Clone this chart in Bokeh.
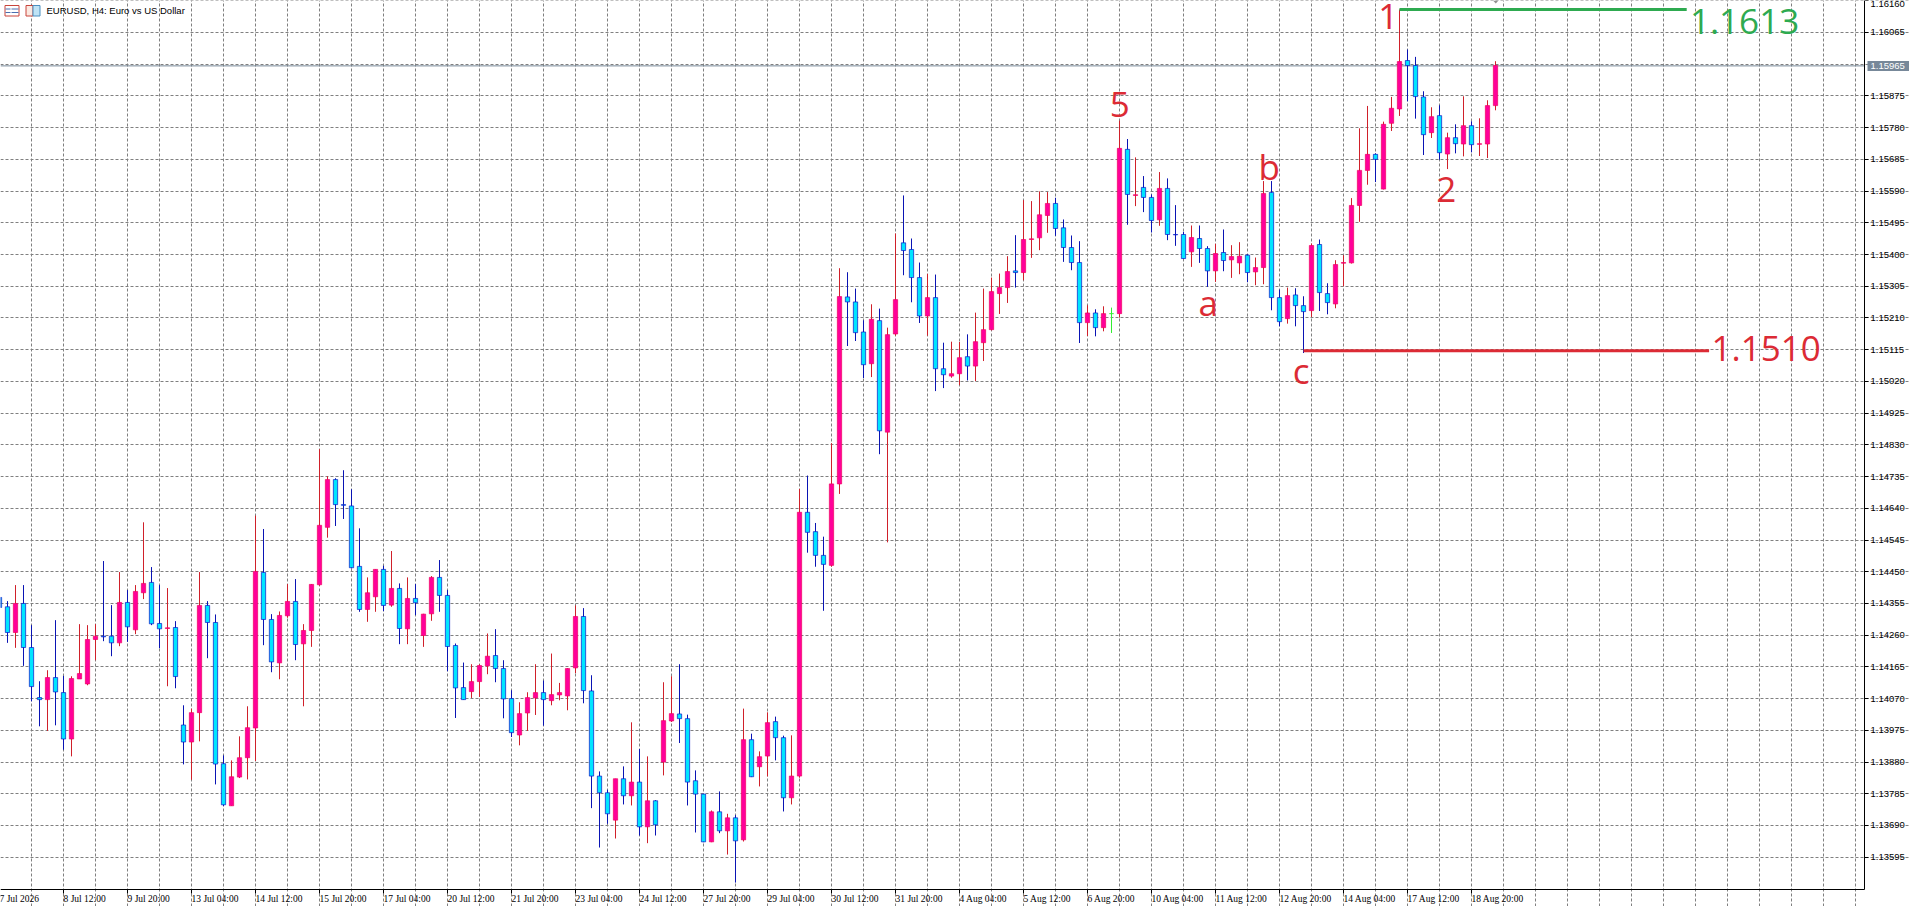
from bokeh.plotting import figure
from bokeh.embed import file_html
from bokeh.resources import INLINE
from bokeh.core.properties import value
from bokeh.models import (ColumnDataSource, FixedTicker, Label, LabelSet,
                          NumeralTickFormatter, Range1d)
import numpy as np

# ---- OHLC, in 1e-5 price points ----
open_pts = [114373,114345,114268,114355,114223,114073,114067,114133,114088,113949,114129,114114,114247,114257,114257,114237,
114358,114276,114387,114418,114295,114280,114283,113991,113940,114028,114349,114298,113875,113749,113835,113893,
113982,114448,114307,114177,114318,114361,114234,114274,114411,114583,114726,114651,114647,114466,114337,114375,
114457,114350,114400,114279,114370,114259,114324,114433,114379,114229,114103,114091,114121,114168,114199,114160,
114070,113961,114027,114072,114088,114064,114081,114078,114162,114316,114093,113838,113788,113706,113830,113779,
113820,113686,113764,113880,114003,114024,114010,113824,113784,113641,113731,113674,113713,113647,113947,113866,
113898,114001,113953,113773,113838,114628,114570,114499,114469,114713,115273,115258,115168,115073,115202,114868,
115162,115435,115415,115331,115216,115271,115058,115036,115043,115094,115066,115136,115175,115283,115301,115351,
115346,115445,115450,115517,115553,115480,115421,115376,115196,115225,115181,115223,115223,115715,115577,115601,
115571,115504,115598,115460,115460,115408,115448,115418,115351,115406,115384,115375,115398,115348,115361,115586,
115271,115208,115279,115247,115232,115430,115283,115252,115374,115375,115547,115652,115700,115596,115793,115836,
115981,115966,115872,115765,115816,115701,115750,115731,115786,115730,115731,115846]
high_pts = [114385,114362,114410,114410,114290,114122,114155,114305,114138,114137,114293,114290,114293,114482,114350,114449,
114395,114410,114598,114464,114410,114401,114302,114050,114040,114449,114362,114322,113900,113885,113957,114047,
114618,114578,114323,114331,114413,114428,114293,114413,114817,114736,114730,114754,114697,114580,114433,114457,
114468,114512,114415,114433,114413,114324,114437,114485,114395,114235,114178,114173,114173,114265,114278,114185,
114095,114059,114089,114173,114124,114205,114117,114161,114349,114341,114140,113852,113797,113830,113867,113999,
113919,113897,113766,114119,114137,114173,114022,113855,113785,113735,113792,113725,113721,114040,113965,113912,
114029,114016,113959,113960,114698,114738,114596,114555,114835,115359,115347,115298,115203,115251,115238,115181,
115463,115577,115448,115376,115342,115340,115136,115139,115138,115161,115226,115298,115331,115343,115395,115458,
115563,115560,115589,115587,115570,115505,115457,115440,115248,115236,115245,115241,115801,115746,115691,115635,
115580,115647,115628,115548,115468,115487,115487,115425,115432,115475,115428,115437,115401,115391,115620,115620,
115295,115301,115299,115275,115433,115445,115314,115383,115398,115569,115778,115845,115703,115798,115872,116134,
116014,115992,115889,115841,115847,115765,115790,115874,115799,115808,115862,115979]
low_pts = [114325,114237,114222,114168,114062,113987,113973,113990,113917,113897,114129,114110,114185,114242,114197,114227,
114240,114263,114368,114290,114221,114107,114101,113873,113827,113942,114191,113813,113748,113749,113832,113828,
113883,114230,114149,114128,114312,114185,114047,114225,114408,114552,114587,114608,114460,114330,114300,114330,
114332,114345,114233,114233,114320,114225,114303,114330,114152,114012,114067,114072,114075,114143,114119,114011,
113955,113930,113973,114021,113989,114050,114065,114035,114146,114056,113742,113624,113695,113651,113753,113750,
113660,113637,113660,113840,114000,113937,113750,113669,113640,113640,113667,113603,113519,113642,113835,113807,
113837,113885,113732,113753,113833,114507,114465,114333,114465,114683,115126,115141,115030,115033,114802,114538,
115157,115338,115257,115195,115157,114991,115000,115031,115009,115023,115021,115081,115173,115222,115255,115301,
115323,115390,115413,115465,115456,115378,115353,115135,115156,115155,115170,115165,115211,115489,115545,115527,
115466,115486,115443,115426,115388,115363,115375,115303,115318,115350,115330,115341,115317,115308,115311,115233,
115185,115193,115185,115105,115213,115231,115221,115239,115305,115373,115498,115609,115617,115595,115770,115815,
115859,115807,115698,115749,115684,115656,115703,115694,115706,115695,115689,115832]
close_pts = [114343,114268,114355,114223,114106,114067,114133,114090,113949,114130,114145,114247,114257,114255,114237,114358,
114285,114391,114415,114294,114279,114282,114136,113940,114028,114349,114298,113874,113752,113836,113893,113983,
114451,114307,114180,114319,114361,114232,114274,114412,114589,114726,114651,114649,114462,114337,114387,114457,
114349,114400,114280,114370,114357,114323,114433,114379,114226,114102,114067,114121,114169,114197,114160,114069,
113968,114025,114073,114088,114067,114082,114088,114160,114316,114094,113838,113788,113725,113830,113779,113820,
113686,113764,113692,114004,114025,114010,113820,113784,113641,113731,113674,113713,113644,113947,113836,113896,
113998,113953,113773,113838,114628,114568,114499,114472,114713,115274,115258,115166,115070,115206,114872,115160,
115265,115412,115331,115216,115271,115058,115040,115043,115091,115066,115139,115175,115289,115301,115349,115346,
115445,115447,115519,115553,115478,115421,115376,115196,115225,115181,115223,115223,115718,115580,115579,115571,
115502,115598,115460,115459,115388,115451,115418,115351,115403,115382,115394,115395,115346,115361,115583,115271,
115199,115277,115247,115229,115427,115286,115256,115370,115376,115547,115652,115700,115685,115790,115838,115978,
115966,115873,115759,115813,115705,115750,115732,115786,115729,115732,115846,115966]

date_labels = ["7 Jul 2026","8 Jul 12:00","9 Jul 20:00","13 Jul 04:00","14 Jul 12:00","15 Jul 20:00","17 Jul 04:00",
"20 Jul 12:00","21 Jul 20:00","23 Jul 04:00","24 Jul 12:00","27 Jul 20:00","29 Jul 04:00","30 Jul 12:00","31 Jul 20:00",
"4 Aug 04:00","5 Aug 12:00","6 Aug 20:00","10 Aug 04:00","11 Aug 12:00","12 Aug 20:00","14 Aug 04:00","17 Aug 12:00","18 Aug 20:00"]
date_label_bars = [0,8,16,24,32,40,48,56,64,72,80,88,96,104,112,120,128,136,144,152,160,168,176,184]

price_ticks = [1.16160,1.16065,1.15875,1.15780,1.15685,1.15590,1.15495,1.15400,1.15305,1.15210,1.15115,1.15020,1.14925,
1.14830,1.14735,1.14640,1.14545,1.14450,1.14355,1.14260,1.14165,1.14070,1.13975,1.13880,1.13785,1.13690,1.13595]
hidden_grid_price = 1.15970
current_price = 1.15965

marks = ["1","5","a","b","c","2"]
mark_bar = [173.6,140.04,151.1,158.7,162.7,180.85]
mark_screen_y = [15.5,104,301.5,166,370,188.5]

level_hi = 1.16134
level_lo = 1.15112

W, H = 1909, 906
AXIS_X, AXIS_Y = 1864, 889          # where the two axes sit on the canvas
BAR_PX = 8
PX_PRICE = 0.00095 / 31.72          # one grid step of 0.00095 is 31.72 px
x0 = 0.125                           # bar i falls on pixel column 8i-1
x1 = x0 + W / BAR_PX
y1 = 1.161623 - 0.5 * PX_PRICE
y0 = y1 - H * PX_PRICE

def px(x):  # canvas px -> bar index
    return x0 + x / BAR_PX
def py(y):  # canvas px -> price
    return y1 - y * PX_PRICE

p = figure(width=W, height=H, output_backend="svg", toolbar_location=None,
           x_range=Range1d(x0, x1), y_range=Range1d(y0, y1),
           y_axis_location="right", min_border=0,
           background_fill_color="white", border_fill_color="white", outline_line_color=None)

AXIS_FONT = "Liberation Sans"
AXIS_SIZE = "9.5px"

# axes, pinned inside the canvas so the labels next to them are not clipped
ya = p.yaxis[0]
ya.fixed_location = px(AXIS_X)
ya.bounds = (py(AXIS_Y), y1)
ya.ticker = FixedTicker(ticks=price_ticks)
ya.formatter = NumeralTickFormatter(format="0.00000")
ya.minor_tick_line_color = None
ya.major_tick_in = 0
ya.major_tick_out = 4
ya.major_label_standoff = 2
ya.major_label_text_font = AXIS_FONT
ya.major_label_text_font_size = AXIS_SIZE
ya.major_label_text_color = "black"
ya.axis_line_color = "black"
ya.major_tick_line_color = "black"

xa = p.xaxis[0]
xa.fixed_location = py(AXIS_Y)
xa.bounds = (x0, px(AXIS_X))
xa.ticker = FixedTicker(ticks=date_label_bars)
xa.major_label_overrides = {b: "" for b in date_label_bars}
xa.major_label_text_font_size = "0px"
xa.major_label_standoff = 0
xa.minor_tick_line_color = None
xa.major_tick_in = 0
xa.major_tick_out = 4
xa.axis_line_color = "black"
xa.major_tick_line_color = "black"

# grid
GRID = "#808080"
p.xgrid.ticker = FixedTicker(ticks=list(range(4, 233, 4)))
p.ygrid.ticker = FixedTicker(ticks=sorted(price_ticks + [hidden_grid_price]))
p.xgrid[0].bounds = (py(AXIS_Y), y1)
p.ygrid[0].bounds = (x0, px(AXIS_X))
for g in (p.xgrid[0], p.ygrid[0]):
    g.grid_line_color = GRID
    g.grid_line_dash = "3 2"
    g.grid_line_width = 1

p.segment([x0], [current_price], [px(AXIS_X)], [current_price], line_color="#778899", line_width=1)

# candles
o = np.array(open_pts) / 1e5
h = np.array(high_pts) / 1e5
l = np.array(low_pts) / 1e5
c = np.array(close_pts) / 1e5
bars = np.arange(len(o))

BULL_FILL, BULL_LINE, BULL_WICK = "#FF0099", "#F00060", "#D0202A"
BEAR_FILL, BEAR_LINE, BEAR_WICK = "#00E5FF", "#0A14C8", "#0A14B4"
DOJI = "#33EE33"

wick, fill, edge = [], [], []
for a, b in zip(open_pts, close_pts):
    if b > a:
        wick.append(BULL_WICK); fill.append(BULL_FILL); edge.append(BULL_LINE)
    elif b < a:
        wick.append(BEAR_WICK); fill.append(BEAR_FILL); edge.append(BEAR_LINE)
    else:
        wick.append(DOJI); fill.append(DOJI); edge.append(DOJI)

src = ColumnDataSource(dict(x=bars, o=o, h=h, l=l, c=c, top=np.maximum(o, c), bot=np.minimum(o, c),
                            wick=wick, fill=fill, edge=edge))
p.segment("x", "h", "x", "l", source=src, line_color="wick", line_width=1)
p.vbar("x", 0.5375, "bot", "top", source=src, fill_color="fill", line_color="edge", line_width=0.7)

# wave levels
GREEN, RED = "#2EAA50", "#DC2B35"
p.segment([175], [level_hi], [210.9], [level_hi], line_color=GREEN, line_width=3)
p.segment([163], [level_lo], [213.7], [level_lo], line_color=RED, line_width=3)

ANN_FONT = value("Open Sans")
p.text(mark_bar, [py(v) for v in mark_screen_y], text=marks, text_font=ANN_FONT, text_font_size="35px",
       text_color=RED, text_align="center", text_baseline="middle")
p.text([211.3], [py(20.5)], text=["1.1613"], text_font=ANN_FONT, text_font_size="35px",
       text_color=GREEN, text_align="left", text_baseline="middle")
p.text([214.0], [py(348)], text=["1.1510"], text_font=ANN_FONT, text_font_size="35px",
       text_color=RED, text_align="left", text_baseline="middle")

# date labels, left aligned at their ticks
p.add_layout(LabelSet(x="x", y="y", text="t",
                      source=ColumnDataSource(dict(x=date_label_bars, y=[py(898)] * len(date_labels), t=date_labels)),
                      text_font=AXIS_FONT, text_font_size=AXIS_SIZE, text_color="black",
                      text_align="left", text_baseline="middle"))

# current price tag
p.quad(left=[px(1867)], right=[px(1909)], top=[py(60.5)], bottom=[py(70.5)], fill_color="#778899", line_color=None)
p.add_layout(Label(x=px(1870), y=current_price, text="1.15965",
                   text_font=AXIS_FONT, text_font_size=AXIS_SIZE, text_color="white",
                   text_baseline="middle", text_align="left"))

# chart caption and its two small icons
p.add_layout(Label(x=px(46), y=py(10), text="EURUSD, H4:  Euro vs US Dollar",
                   text_font=AXIS_FONT, text_font_size=AXIS_SIZE, text_color="black",
                   text_baseline="middle", text_align="left"))
p.quad(left=[px(4.5)], right=[px(18.5)], top=[py(5)], bottom=[py(15.5)], fill_color="white", line_color="#C8443C")
p.segment([px(5)] * 2 + [px(11)] * 2, [py(8.5), py(12)] * 2, [px(10)] * 2 + [px(18)] * 2, [py(8.5), py(12)] * 2,
          line_color="#4A6FB0")
p.quad(left=[px(25.5)], right=[px(32.5)], top=[py(5)], bottom=[py(15.5)], fill_color="#FBE8E0", line_color="#C8443C")
p.quad(left=[px(32.5)], right=[px(39.5)], top=[py(5)], bottom=[py(15.5)], fill_color="#BFE3F5", line_color="#4A8FC0")

# last-bar marker at the top edge
p.patch([px(1492.5), px(1498), px(1495.3)], [py(0), py(0), py(3)], fill_color="#909090", line_color=None)

open("out.html", "w").write(file_html(p, INLINE))
